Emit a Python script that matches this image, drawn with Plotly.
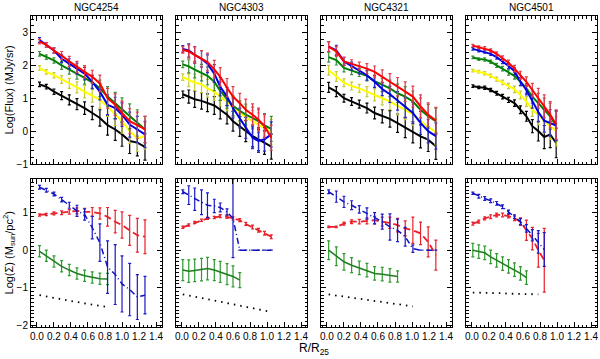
import plotly.graph_objects as go
from plotly.subplots import make_subplots

galaxies = ["NGC4254", "NGC4303", "NGC4321", "NGC4501"]

# radial bins (R/R25) for each galaxy
radius = [
    [0.03, 0.11, 0.20, 0.29, 0.38, 0.47, 0.56, 0.65, 0.74, 0.83, 0.92, 1.00, 1.09, 1.18, 1.27],
    [0.01, 0.08, 0.15, 0.23, 0.30, 0.38, 0.45, 0.53, 0.60, 0.68, 0.75, 0.83, 0.90, 0.97, 1.05],
    [0.02, 0.11, 0.20, 0.29, 0.38, 0.47, 0.56, 0.65, 0.74, 0.83, 0.92, 1.01, 1.10, 1.19, 1.28],
    [0.01, 0.08, 0.15, 0.22, 0.29, 0.36, 0.43, 0.50, 0.57, 0.64, 0.71, 0.78, 0.85, 0.92, 0.99],
]

# top row: log flux profiles (MJy/sr)
flux_red = [
    [2.72, 2.62, 2.45, 2.30, 2.12, 1.95, 1.80, 1.65, 1.45, 1.00, 0.80, 0.55, 0.30, 0.18, 0.05],
    [2.47, 2.42, 2.32, 2.20, 2.10, 1.88, 1.65, 1.32, 1.05, 0.85, 0.65, 0.50, 0.35, 0.15, -0.20],
    [2.57, 2.42, 2.12, 2.05, 1.98, 1.90, 1.80, 1.66, 1.50, 1.35, 1.20, 1.05, 0.75, 0.50, 0.32],
    [2.60, 2.55, 2.52, 2.45, 2.35, 2.22, 2.08, 1.90, 1.70, 1.50, 1.25, 1.00, 0.75, 0.50, 0.20],
]
flux_blue = [
    [2.77, 2.62, 2.45, 2.20, 2.05, 1.90, 1.75, 1.50, 1.20, 0.80, 0.70, 0.50, 0.20, 0.05, -0.10],
    [2.50, 2.45, 2.32, 2.20, 2.05, 1.75, 1.35, 1.05, 0.70, 0.40, 0.10, -0.20, -0.30, -0.25, -0.10],
    [2.57, 2.46, 2.12, 1.98, 1.86, 1.70, 1.50, 1.28, 1.12, 0.92, 0.72, 0.55, 0.25, 0.00, -0.15],
    [2.50, 2.45, 2.42, 2.35, 2.25, 2.12, 1.98, 1.82, 1.50, 1.25, 0.90, 0.58, 0.32, 0.25, 0.17],
]
flux_green = [
    [2.35, 2.25, 2.15, 2.00, 1.88, 1.75, 1.62, 1.48, 1.30, 1.05, 0.85, 0.65, 0.45, 0.25, 0.05],
    [2.03, 1.97, 1.87, 1.78, 1.68, 1.50, 1.22, 0.97, 0.77, 0.62, 0.50, 0.40, 0.30, 0.17, 0.07],
    [2.25, 2.16, 1.92, 1.84, 1.78, 1.68, 1.52, 1.40, 1.30, 1.15, 1.05, 0.90, 0.65, 0.45, 0.30],
    [2.24, 2.19, 2.18, 2.11, 2.00, 1.90, 1.78, 1.68, 1.50, 1.30, 1.05, 0.85, 0.65, 0.45, 0.15],
]
flux_yellow = [
    [1.92, 1.80, 1.70, 1.57, 1.45, 1.33, 1.20, 1.08, 0.95, 0.75, 0.50, 0.30, 0.00, -0.22, -0.15],
    [1.64, 1.55, 1.48, 1.42, 1.30, 1.20, 1.05, 0.90, 0.75, 0.58, 0.42, 0.30, 0.20, 0.10, -0.02],
    [1.85, 1.66, 1.47, 1.37, 1.30, 1.20, 1.10, 1.00, 0.90, 0.77, 0.65, 0.50, 0.30, 0.12, -0.02],
    [1.84, 1.81, 1.76, 1.68, 1.58, 1.48, 1.37, 1.27, 1.10, 0.90, 0.65, 0.50, 0.30, 0.15, 0.00],
]
flux_black = [
    [1.42, 1.35, 1.20, 1.08, 0.95, 0.82, 0.70, 0.55, 0.40, 0.18, 0.05, -0.10, -0.30, -0.35, -0.48],
    [1.12, 1.05, 0.97, 0.92, 0.86, 0.78, 0.65, 0.50, 0.30, 0.14, 0.00, -0.15, -0.25, -0.35, -0.47],
    [1.33, 1.20, 1.00, 0.90, 0.82, 0.70, 0.55, 0.45, 0.37, 0.24, 0.10, -0.04, -0.16, -0.26, -0.46],
    [1.37, 1.33, 1.32, 1.25, 1.15, 1.05, 0.95, 0.85, 0.65, 0.45, 0.15, 0.00, -0.18, -0.10, -0.36],
]
flux_err = [
    [0.07, 0.07, 0.08, 0.12, 0.15, 0.17, 0.19, 0.20, 0.25, 0.30, 0.33, 0.36, 0.38, 0.40, 0.40],
    [0.10, 0.20, 0.25, 0.25, 0.27, 0.27, 0.28, 0.28, 0.30, 0.30, 0.32, 0.33, 0.35, 0.36, 0.38],
    [0.15, 0.15, 0.12, 0.12, 0.12, 0.15, 0.18, 0.20, 0.25, 0.28, 0.30, 0.32, 0.35, 0.36, 0.40],
    [0.04, 0.04, 0.05, 0.05, 0.06, 0.07, 0.08, 0.10, 0.12, 0.15, 0.20, 0.30, 0.35, 0.40, 0.45],
]

# bottom row: log surface density (Msun/pc^2)
sig_red = [
    [0.94, 0.95, 0.98, 1.00, 1.02, 1.05, 1.02, 1.02, 0.98, 0.89, 0.76, 0.67, 0.53, 0.40, 0.36],
    [0.61, 0.67, 0.74, 0.80, 0.85, 0.87, 0.91, 0.89, 0.85, 0.80, 0.70, 0.62, 0.53, 0.45, 0.36],
    [0.62, 0.62, 0.71, 0.76, 0.76, 0.78, 0.80, 0.76, 0.73, 0.67, 0.58, 0.53, 0.45, 0.22, -0.13],
    [0.71, 0.76, 0.85, 0.89, 0.94, 0.94, 0.91, 0.85, 0.76, 0.53, 0.31, 0.00, -0.27],
]
sig_red_err = [
    [0.03, 0.03, 0.04, 0.05, 0.06, 0.08, 0.10, 0.12, 0.15, 0.25, 0.30, 0.35, 0.40, 0.45, 0.45],
    [0.03, 0.03, 0.03, 0.03, 0.03, 0.03, 0.04, 0.04, 0.04, 0.04, 0.04, 0.05, 0.05, 0.05, 0.05],
    [0.02, 0.02, 0.04, 0.05, 0.06, 0.08, 0.10, 0.12, 0.15, 0.18, 0.20, 0.35, 0.30, 0.40, 0.40],
    [0.04, 0.04, 0.04, 0.05, 0.05, 0.05, 0.05, 0.06, 0.10, 0.27, 0.30, 0.45, 0.85],
]
sig_blue = [
    [1.68, 1.60, 1.50, 1.35, 1.20, 1.05, 0.95, 0.60, 0.20, -0.45, -0.65, -0.90, -1.05, -1.25, -1.20],
    [1.56, 1.47, 1.36, 1.28, 1.20, 1.18, 1.14, 1.02, 0.85, 0.00, 0.00, 0.00, 0.00, 0.00, 0.00],
    [1.56, 1.43, 1.29, 1.20, 1.09, 0.98, 0.85, 0.76, 0.62, 0.53, 0.36, 0.04, 0.00, 0.00, 0.00],
    [1.52, 1.44, 1.38, 1.32, 1.25, 1.16, 1.02, 0.89, 0.76, 0.58, 0.40, 0.22, 0.02],
]
sig_blue_err = [
    [0.05, 0.05, 0.05, 0.06, 0.08, 0.15, 0.15, 0.30, 0.50, 0.70, 0.80, 0.75, 0.70, 0.60, 0.50],
    [0.05, 0.25, 0.30, 0.33, 0.33, 0.18, 0.12, 0.08, 1.05, 0, 0, 0, 0, 0, 0],
    [0.05, 0.15, 0.15, 0.12, 0.10, 0.15, 0.15, 0.20, 0.35, 0.30, 0.25, 0.10, 0, 0, 0],
    [0.03, 0.05, 0.05, 0.05, 0.05, 0.05, 0.05, 0.05, 0.08, 0.10, 0.15, 0.30, 0.45],
]
sig_green = [
    [-0.03, -0.15, -0.30, -0.43, -0.53, -0.62, -0.68, -0.73, -0.76, -0.77],
    [-0.53, -0.56, -0.54, -0.52, -0.49, -0.53, -0.58, -0.64, -0.70, -0.80],
    [0.00, -0.16, -0.31, -0.40, -0.47, -0.53, -0.62, -0.64, -0.67, -0.70],
    [0.00, -0.04, -0.07, -0.18, -0.27, -0.36, -0.43, -0.52, -0.62, -0.73],
]
sig_green_err = [
    [0.15, 0.15, 0.15, 0.15, 0.15, 0.15, 0.15, 0.15, 0.15, 0.15],
    [0.28, 0.30, 0.30, 0.30, 0.30, 0.28, 0.28, 0.28, 0.28, 0.20],
    [0.25, 0.25, 0.22, 0.20, 0.18, 0.18, 0.18, 0.18, 0.18, 0.15],
    [0.18, 0.18, 0.18, 0.18, 0.18, 0.18, 0.18, 0.18, 0.18, 0.18],
]
sig_black = [
    [-1.20, -1.24, -1.28, -1.31, -1.35, -1.38, -1.42, -1.45, -1.49, -1.52],
    [-1.18, -1.21, -1.25, -1.28, -1.31, -1.34, -1.37, -1.41, -1.44, -1.47, -1.50, -1.54, -1.57, -1.61, -1.65],
    [-1.18, -1.21, -1.24, -1.27, -1.30, -1.33, -1.36, -1.39, -1.42, -1.45, -1.48, -1.50],
    [-1.13, -1.13, -1.14, -1.14, -1.15, -1.15, -1.16, -1.16, -1.17, -1.17, -1.18, -1.18],
]

FONT = "Liberation Sans, Arial, sans-serif"
band_colors = {"black": "#000000", "yellow": "#ffff00", "green": "#008000",
               "blue": "#0000e0", "red": "#ff0000"}
bar_colors = {"black": "#000000", "yellow": "#c8c832", "green": "#3c8c3c",
              "blue": "#2828c8", "red": "#e03c50"}

fig = make_subplots(rows=2, cols=4, horizontal_spacing=14 / 566,
                    vertical_spacing=15 / 311)

flux_sets = [("black", flux_black), ("yellow", flux_yellow), ("green", flux_green),
             ("blue", flux_blue), ("red", flux_red)]

for g in range(4):
    r = radius[g]
    col = g + 1
    # top: flux profiles
    for band, data in flux_sets:
        fig.add_trace(go.Scatter(
            x=r, y=data[g], mode="lines",
            line=dict(color=band_colors[band], width=2),
            error_y=dict(type="data", array=flux_err[g], color=bar_colors[band],
                         thickness=1.2, width=1.5),
            showlegend=False), row=1, col=col)
    # bottom: surface densities
    fig.add_trace(go.Scatter(
        x=r[:len(sig_black[g])], y=sig_black[g], mode="lines",
        line=dict(color="black", width=1.8, dash="1.5px,5px"),
        showlegend=False), row=2, col=col)
    fig.add_trace(go.Scatter(
        x=r[:len(sig_green[g])], y=sig_green[g], mode="lines",
        line=dict(color="#1e7d1e", width=1.5),
        error_y=dict(type="data", array=sig_green_err[g], color="#2e9a2e",
                     thickness=1.2, width=1.5),
        showlegend=False), row=2, col=col)
    fig.add_trace(go.Scatter(
        x=r[:len(sig_red[g])], y=sig_red[g], mode="lines",
        line=dict(color="#e8202a", width=1.8, dash="7px,4px"),
        error_y=dict(type="data", array=sig_red_err[g], color="#e8202a",
                     thickness=1.2, width=1.5),
        showlegend=False), row=2, col=col)
    fig.add_trace(go.Scatter(
        x=r[:len(sig_blue[g])], y=sig_blue[g], mode="lines",
        line=dict(color="#1010c0", width=1.5, dash="6px,3px,1px,3px"),
        error_y=dict(type="data", array=sig_blue_err[g], color="#1818c8",
                     thickness=1.2, width=1.5),
        showlegend=False), row=2, col=col)

    fig.add_annotation(text=galaxies[g], xref="x%s domain" % ("" if col == 1 else col),
                       yref="y%s domain" % ("" if col == 1 else col),
                       x=0.5, y=1.0, yanchor="bottom", yshift=1, showarrow=False,
                       font=dict(family=FONT, size=10, color="black"))

axis_style = dict(showline=True, linecolor="black", linewidth=1, mirror="allticks",
                  ticks="inside", ticklen=5, tickcolor="black", showgrid=False,
                  zeroline=False, tickfont=dict(family=FONT, size=10, color="black"))

for row in (1, 2):
    for col in range(1, 5):
        fig.update_xaxes(axis_style, range=[-0.07, 1.47],
                         tickvals=[0, 0.2, 0.4, 0.6, 0.8, 1.0, 1.2, 1.4],
                         tickformat=".1f", showticklabels=(row == 2),
                         minor=dict(ticks="inside", ticklen=2.5, dtick=0.05,
                                    tickcolor="black"),
                         row=row, col=col)
        if row == 1:
            fig.update_yaxes(axis_style, range=[-1, 3.5], tickvals=[-1, 0, 1, 2, 3],
                             showticklabels=(col == 1),
                             minor=dict(ticks="inside", ticklen=2.5, dtick=0.2,
                                        tickcolor="black"),
                             row=row, col=col)
        else:
            fig.update_yaxes(axis_style, range=[-2.05, 1.9], tickvals=[-2, -1, 0, 1],
                             showticklabels=(col == 1),
                             minor=dict(ticks="inside", ticklen=2.5, dtick=0.1,
                                        tickcolor="black"),
                             row=row, col=col)

fig.add_annotation(text="Log(Flux) (MJy/sr)", xref="paper", yref="y domain",
                   x=-0.038, xanchor="center", y=0.5, yanchor="middle",
                   textangle=-90, showarrow=False,
                   font=dict(family=FONT, size=11, color="black"))
fig.add_annotation(text="Log(\u03a3) (M<sub>sun</sub>/pc<sup>2</sup>)", xref="paper",
                   yref="y5 domain", x=-0.038, xanchor="center", y=0.5,
                   yanchor="middle", textangle=-90, showarrow=False,
                   font=dict(family=FONT, size=11, color="black"))
fig.add_annotation(text="R/R<sub>25</sub>", xref="paper", yref="paper",
                   x=0.5, y=-0.071, yanchor="middle", showarrow=False,
                   font=dict(family=FONT, size=12, color="black"))

fig.update_layout(width=600, height=359, plot_bgcolor="white", paper_bgcolor="white",
                  margin=dict(l=31, r=3, t=16, b=32), showlegend=False)

# drop the browser's default 8px body margin so the figure fills the window
fig.write_html("out.html", config={"displayModeBar": False},
               post_script="document.body.style.margin='0';")
